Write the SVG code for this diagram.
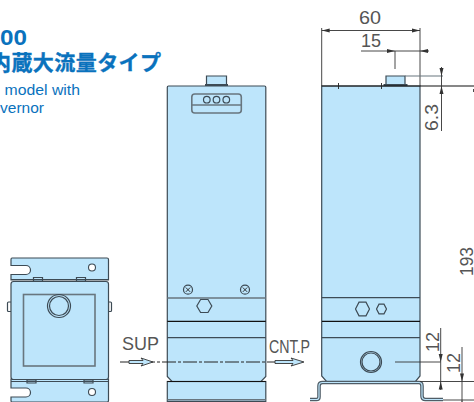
<svg xmlns="http://www.w3.org/2000/svg" width="474" height="402" viewBox="0 0 474 402">
<defs>
<marker id="ah" viewBox="0 0 8 6" refX="8" refY="3" markerWidth="8" markerHeight="6" orient="auto-start-reverse" markerUnits="userSpaceOnUse"><path d="M0 1L8 3L0 5Z" fill="#333"/></marker>
</defs>
<style>
.b{fill:#bde5fb;stroke:#3d4b55;stroke-width:1.2}
.l{fill:none;stroke:#3d4b55;stroke-width:1.2}
.g{fill:none;stroke:#68767f;stroke-width:1.6}
.n{fill:none;stroke:#222;stroke-width:.9}
.nk{fill:none;stroke:#111;stroke-width:1.2}
.d{fill:none;stroke:#333;stroke-width:.9}
.a{marker-start:url(#ah);marker-end:url(#ah)}
.t{font-family:"Liberation Sans",Arial,sans-serif;fill:#555;font-size:17.500px}
.h{font-family:"Liberation Sans","Noto Sans CJK JP",sans-serif;fill:#0a72bd}
.w{fill:#bde5fb;stroke:#333;stroke-width:.9}
</style>
<g id="title">
<text class="h" x="0" y="45" font-size="22" font-weight="700" textLength="27" lengthAdjust="spacingAndGlyphs">00</text>
<text class="h" x="-10" y="70" font-size="21" font-weight="700" stroke="#0a72bd" stroke-width=".35" textLength="171" lengthAdjust="spacing">内蔵大流量タイプ</text>
<text class="h" x="4.500" y="95" font-size="14" textLength="75.500" lengthAdjust="spacingAndGlyphs">model with</text>
<text class="h" x="0" y="113" font-size="14" textLength="44" lengthAdjust="spacingAndGlyphs">vernor</text>
</g>
<g id="top-view">
<path class="l" d="M7.500 303q0-1 1-1h3v9.500h-3q-1 0-1-1zM108.500 302h2q1 0 1 1v7.500q0 1-1 1h-2z" fill="#bde5fb"/>
<path class="b" d="M12 258H107q1.500 0 1.500 1.500V280H11V274.500H26a4.500 4.500 0 0 0 0-9H11V259.500Q11 258 12 258Z"/>
<path class="b" d="M11 379H108.500V400.500q0 1.500-1.500 1.500H12q-1 0-1-1.500V397H26a4.500 4.500 0 0 0 0-9H11Z"/>
<path class="b" d="M33.500 277.500h9v3.500h-9zM76.500 277.500h9v3.500h-9zM27 380h9v3h-9zM84 380h9v3h-9z"/>
<rect class="b" x="11" y="281.500" width="97.500" height="98" rx="2.500"/>
<path class="l" d="M11 279.500H108.500M11 381.500H108.500"/>
<rect class="g" x="23.500" y="294.500" width="71.500" height="71.500"/>
<circle class="l" cx="59" cy="306" r="11.500"/>
<circle class="l" cx="59" cy="306" r="9.500"/>
<circle cx="92" cy="267.500" r="3.500" fill="#fff" stroke="#3d4b55" stroke-width="1.100"/>
<circle cx="92" cy="392" r="3.500" fill="#fff" stroke="#3d4b55" stroke-width="1.100"/>
</g>
<g id="front-view">
<path class="b" d="M206.500 76h20v9h-20z"/>
<path d="M205 85h23" stroke="#3d4b55" stroke-width="2"/>
<path class="b" d="M168.500 86H264.500q1.300 0 1.300 1.300V376.500L261 381.500H172L167.300 376.500V87.300q0-1.300 1.200-1.300Z"/>
<rect class="b" x="167.300" y="381.500" width="98.500" height="20"/>
<path class="g" d="M167.300 399.800H265.800M167.300 298H265.800"/>
<path class="nk" d="M167.300 321.300H265.800M167.300 381.500H265.800"/>
<path class="l" d="M167.300 337.700H265.800"/>
<rect class="g" x="191.800" y="94" width="49.500" height="19" rx="3"/>
<path class="g" d="M191.800 105H241.300"/>
<circle class="l" cx="206.800" cy="99.700" r="3.300"/><circle class="l" cx="216.500" cy="99.700" r="3.300"/><circle class="l" cx="226.300" cy="99.700" r="3.300"/>
<circle class="l" cx="188" cy="289.700" r="4.500"/><path class="n" d="M185.800 287.500l4.400 4.400m0-4.400l-4.400 4.400"/>
<circle class="l" cx="245" cy="289.700" r="4.500"/><path class="n" d="M242.800 287.500l4.400 4.400m0-4.400l-4.400 4.400"/>
<path class="l" d="M196.800 306l3.800-6.500h7.400l3.800 6.500-3.800 6.500h-7.400z"/>
</g>
<g id="side-view">
<path class="b" d="M386 76h19v9h-19z"/>
<path d="M383.500 85h24" stroke="#3d4b55" stroke-width="2"/>
<path class="b" d="M321.700 86H420V376L415.500 381.500H326.500L321.700 376Z"/>
<path class="nk" d="M321.700 86H420M322 321.300H420M322 381.500H420"/>
<path class="l" d="M321.700 297.700H420M321.700 337.700H420"/>
<path class="n" d="M338.500 83v6M381.500 83v6"/>
<path class="l" d="M355.500 309l3.500-6.800h7l3.500 6.800-3.500 6.800h-7zM376.500 309l2.500-4.800h5l2.500 4.800-2.500 4.800h-5z"/>
<circle class="l" cx="371" cy="362" r="10.500" stroke-width="1.400"/>
<circle class="l" cx="371" cy="362" r="9"/>
<path d="M310 399.500H316.500Q319 399.500 319 397V386Q319 382.500 322.500 382.500H419Q422 382.500 422 386V396Q422 399.500 425.500 399.500H443" fill="none" stroke="#4f5d67" stroke-width="3.600"/>
<path d="M310 399.500H316.500Q319 399.500 319 397V386Q319 382.500 322.500 382.500H419Q422 382.500 422 386V396Q422 399.500 425.500 399.500H443" fill="none" stroke="#bde5fb" stroke-width="1.200"/>
</g>
<g id="connectors">
<path d="M120 362H304" fill="none" stroke="#222" stroke-width="1" stroke-dasharray="14 2 3 2"/>
<path class="w" d="M129 360.500H143L141 358L153 362L141 366L143 363.500H129Z"/>
<path class="w" d="M275 360.500H293L291 358L304 362L291 366L293 363.500H275Z"/>
<path class="d" d="M321.700 28V86M420 28V86"/>
<path class="d a" d="M321.700 30.500H420"/>
<path class="d" d="M361 51H429M395 51V69"/>
<path d="M395 51l-8-2v4zM420 51l8-2v4z" fill="#333"/>
<path d="M420 86H474" class="nk"/>
<path d="M405 76H443" stroke="#68767f" stroke-width="1.200"/>
<path class="d" d="M441.500 67V131"/>
<path d="M441.500 76l-2-8h4zM441.500 86l-2 8h4z" fill="#333"/>
<path class="d" d="M473.500 89v3"/>
<path class="d" d="M395 362H440.700M440.700 328V390M420 381.500H474M462 347V402M443 400H474"/>
<path d="M440.700 362l-2-8h4zM440.700 381.500l-2 8h4zM462 381.500l-2-8h4zM462 400l-2 8h4z" fill="#333"/>
</g>
<g id="labels">
<text class="t" x="359" y="24" textLength="22" lengthAdjust="spacingAndGlyphs">60</text>
<text class="t" x="361" y="46.500" textLength="20" lengthAdjust="spacingAndGlyphs">15</text>
<text class="t" transform="translate(438 131) rotate(-90)" textLength="27" lengthAdjust="spacingAndGlyphs">6.3</text>
<text class="t" transform="translate(473 276) rotate(-90)" textLength="29" lengthAdjust="spacingAndGlyphs">193</text>
<text class="t" transform="translate(438.500 352) rotate(-90)" textLength="20" lengthAdjust="spacingAndGlyphs">12</text>
<text class="t" transform="translate(460 373) rotate(-90)" textLength="20" lengthAdjust="spacingAndGlyphs">12</text>
<text class="t" x="122" y="350" textLength="37" lengthAdjust="spacingAndGlyphs">SUP</text>
<text class="t" x="269" y="353" textLength="41" lengthAdjust="spacingAndGlyphs">CNT.P</text>
</g>
</svg>
